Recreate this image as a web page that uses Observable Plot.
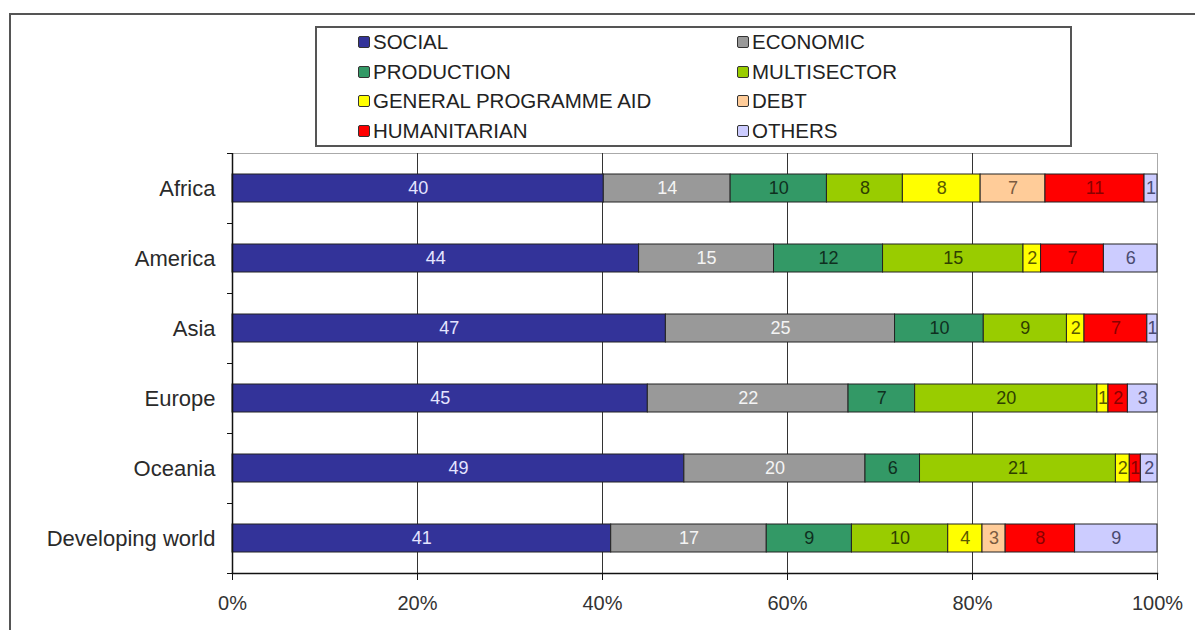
<!DOCTYPE html>
<html>
<head>
<meta charset="utf-8">
<script src="https://cdn.jsdelivr.net/npm/d3@7"></script>
<script src="https://cdn.jsdelivr.net/npm/@observablehq/plot@0.6"></script>
<style>
  body { margin: 0; background: #fff; font-family: "Liberation Sans", Arial, sans-serif; }
  #wrap { position: relative; width: 1195px; height: 630px; overflow: hidden; }
  #frame { position: absolute; left: 9px; top: 13px; width: 1400px; height: 800px;
           border-top: 2px solid #555; border-left: 2px solid #555; pointer-events: none; }
  #chart { position: absolute; left: 0; top: 0; }
  #legend { position: absolute; left: 315px; top: 26px; width: 753px; height: 117px;
            border: 2px solid #555; background: #fff; }
  .item { position: absolute; font-size: 20.5px; color: #222; line-height: 20px; white-space: nowrap; }
  .sw { position: absolute; width: 10px; height: 10px; border: 1px solid #333; border-radius: 2px; }
</style>
</head>
<body>
<div id="wrap">
  <div id="chart"></div>
  <div id="frame"></div>
  <div id="legend"></div>
</div>
<script>
const regions = ["Africa", "America", "Asia", "Europe", "Oceania", "Developing world"];
const sectors = ["SOCIAL", "ECONOMIC", "PRODUCTION", "MULTISECTOR", "GENERAL PROGRAMME AID", "DEBT", "HUMANITARIAN", "OTHERS"];
const sectorColors = ["#333399", "#999999", "#339966", "#99cc00", "#ffff00", "#ffcc99", "#ff0000", "#ccccff"];
const labelColors = ["#e4e4ff", "#f4f4f4", "#0f2f1f", "#2f3f00", "#5a5a00", "#7a5a40", "#8a0000", "#4a4a70"];

// shares (%) per region, in region order
const social = [40.1, 44.0, 46.9, 44.9, 48.9, 40.9];
const economic = [13.7, 14.6, 24.8, 21.7, 19.6, 16.8];
const production = [10.4, 11.8, 9.6, 7.2, 5.9, 9.2];
const multisector = [8.2, 15.2, 9.0, 19.7, 21.2, 10.4];
const generalProgrammeAid = [8.4, 1.9, 1.9, 1.2, 1.5, 3.7];
const debt = [7.0, 0, 0, 0, 0, 2.5];
const humanitarian = [10.7, 6.8, 6.8, 2.1, 1.2, 7.5];
const others = [1.4, 5.8, 1.1, 3.2, 1.8, 8.9];

const xTicks = [0, 0.2, 0.4, 0.6, 0.8, 1];

const series = [social, economic, production, multisector, generalProgrammeAid, debt, humanitarian, others];
const data = [];
regions.forEach((r, ri) => {
  sectors.forEach((s, si) => {
    const v = series[si][ri];
    if (v > 0) data.push({region: r, sector: s, value: v, labelColor: labelColors[si]});
  });
});

const chart = Plot.plot({
  width: 1195,
  height: 630,
  marginTop: 153,
  marginBottom: 57,
  marginLeft: 232,
  marginRight: 38,
  style: {fontSize: "20px", fontFamily: "'Liberation Sans', Arial, sans-serif", color: "#333", background: "transparent"},
  x: {domain: [0, 1], label: null},
  y: {domain: regions, paddingInner: 0.6, paddingOuter: 0.3, label: null},
  color: {domain: sectors, range: sectorColors, legend: false},
  marks: [
    Plot.frame({anchor: "top", stroke: "#aaa"}),
    Plot.frame({anchor: "right", stroke: "#aaa"}),
    Plot.ruleX(xTicks.slice(1, -1), {stroke: "#333", strokeWidth: 1}),
    Plot.barX(data, Plot.stackX({x: "value", y: "region", fill: "sector", offset: "normalize", stroke: "#222", strokeWidth: 1})),
    Plot.text(data, Plot.stackX({
      x: "value", y: "region", z: "sector", offset: "normalize",
      text: d => String(Math.round(d.value)),
      fill: {value: "labelColor", scale: null},
      fontSize: 18
    })),
    Plot.axisX({ticks: xTicks, tickFormat: d => Math.round(d * 100) + "%", tickSize: 7, tickPadding: 15, fontSize: 20, label: null, stroke: "#111"}),
    Plot.axisY({tickSize: 0, tickPadding: 17, fontSize: 22, label: null, fill: "#2a2a2a"}),
    Plot.ruleX([0], {stroke: "#111", strokeWidth: 1.5}),
    Plot.frame({anchor: "bottom", stroke: "#111", strokeWidth: 1.5}),
    Plot.ruleY(regions, {y: d => d, x1: 0, x2: 0, insetLeft: -5, dy: -35, stroke: "#111"}),
    Plot.ruleY(regions.slice(-1), {y: d => d, x1: 0, x2: 0, insetLeft: -5, dy: 35, stroke: "#111"})
  ]
});
document.getElementById("chart").appendChild(chart);

const legend = document.getElementById("legend");
sectors.forEach((s, i) => {
  const col = i % 2, row = Math.floor(i / 2);
  const cy = 42 + row * 29.5 - 26 - 2;
  const sw = document.createElement("div");
  sw.className = "sw";
  sw.style.background = sectorColors[i];
  sw.style.left = (col === 0 ? 358 - 317 : 737 - 317) + "px";
  sw.style.top = (cy - 6) + "px";
  legend.appendChild(sw);
  const t = document.createElement("div");
  t.className = "item";
  t.textContent = s;
  t.style.left = (col === 0 ? 373 - 317 : 752 - 317) + "px";
  t.style.top = (cy - 10) + "px";
  legend.appendChild(t);
});
</script>
</body>
</html>
